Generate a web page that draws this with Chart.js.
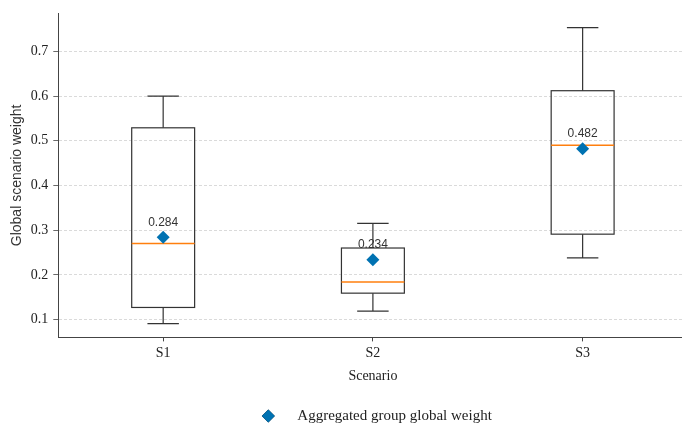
<!DOCTYPE html>
<html>
<head>
<meta charset="utf-8">
<script src="https://cdn.jsdelivr.net/npm/chart.js@4"></script>
<style>
html,body{margin:0;background:#fff;overflow:hidden}
#wrap{width:694px;height:423px;position:relative}
</style>
</head>
<body>
<div id="wrap"><canvas id="grafico"></canvas></div>
<script>

// datos del grafico
const escenarios = ["S1", "S2", "S3"]
const bigoteInf = [0.091, 0.119, 0.238]
const cuartil1 = [0.127, 0.159, 0.291]
const mediana = [0.270, 0.184, 0.490]
const cuartil3 = [0.529, 0.260, 0.612]
const bigoteSup = [0.600, 0.315, 0.753]
const medias = [0.284, 0.234, 0.482]
const ticksY = [0.1, 0.2, 0.3, 0.4, 0.5, 0.6, 0.7]
const etiquetaMedia = "Aggregated group global weight"

const fuenteSerif = "'Liberation Serif', 'Times New Roman', serif"
const fuenteSans = "'Liberation Sans', Arial, sans-serif"
const azul = "#0072B2"

/* =========================
CAJAS (boxplot) via plugin
========================= */

const cajasPlugin = {
id: "cajas",
beforeDatasetsDraw(chart){
let ctx = chart.ctx
let x = chart.scales.x
let y = chart.scales.y

ctx.save()
escenarios.forEach(function(nombre, i){
let pos = i + 1
let xc = x.getPixelForValue(pos)
let xl = x.getPixelForValue(pos - 0.15)
let xr = x.getPixelForValue(pos + 0.15)
let cl = x.getPixelForValue(pos - 0.075)
let cr = x.getPixelForValue(pos + 0.075)

ctx.strokeStyle = "#333"
ctx.lineWidth = 1.2

// bigotes
ctx.beginPath()
ctx.moveTo(xc, y.getPixelForValue(cuartil3[i]))
ctx.lineTo(xc, y.getPixelForValue(bigoteSup[i]))
ctx.moveTo(cl, y.getPixelForValue(bigoteSup[i]))
ctx.lineTo(cr, y.getPixelForValue(bigoteSup[i]))
ctx.moveTo(xc, y.getPixelForValue(cuartil1[i]))
ctx.lineTo(xc, y.getPixelForValue(bigoteInf[i]))
ctx.moveTo(cl, y.getPixelForValue(bigoteInf[i]))
ctx.lineTo(cr, y.getPixelForValue(bigoteInf[i]))
ctx.stroke()

// caja
let yTop = y.getPixelForValue(cuartil3[i])
let yBot = y.getPixelForValue(cuartil1[i])
ctx.strokeRect(xl, yTop, xr - xl, yBot - yTop)

// mediana
ctx.strokeStyle = "#ff7f0e"
ctx.lineWidth = 1.6
ctx.beginPath()
ctx.moveTo(xl, y.getPixelForValue(mediana[i]))
ctx.lineTo(xr, y.getPixelForValue(mediana[i]))
ctx.stroke()
})
ctx.restore()
},
afterDatasetsDraw(chart){
let ctx = chart.ctx
let x = chart.scales.x
let y = chart.scales.y
ctx.save()
ctx.fillStyle = "#333"
ctx.font = "12px " + fuenteSans
ctx.textAlign = "center"
ctx.textBaseline = "middle"
medias.forEach(function(m, i){
ctx.fillText(m.toFixed(3), x.getPixelForValue(i + 1), y.getPixelForValue(m) - 15)
})
ctx.restore()
},
afterDraw(chart){
// leyenda abajo, centrada bajo los ejes como en matplotlib
let ctx = chart.ctx
let area = chart.chartArea
let yl = 416
let xd = area.left + 210
ctx.save()
Chart.helpers.drawPoint(ctx, {pointStyle: "rectRot", radius: 6.5, borderWidth: 0}, xd, yl)
ctx.fillStyle = azul
ctx.fill()
ctx.fillStyle = "#222"
ctx.font = "15px " + fuenteSerif
ctx.textAlign = "left"
ctx.textBaseline = "middle"
ctx.fillText(etiquetaMedia, xd + 29, yl)
ctx.restore()
}
}

new Chart(document.getElementById("grafico"), {
type: "scatter",
data: {
datasets: [{
label: etiquetaMedia,
data: medias.map((m, i) => ({x: i + 1, y: m})),
pointStyle: "rectRot",
pointRadius: 6.5,
pointHoverRadius: 6.5,
backgroundColor: azul,
borderColor: azul,
borderWidth: 0
}]
},
options: {
responsive: true,
maintainAspectRatio: false,
animation: false,
layout: {padding: {left: 9, right: 0, top: 12, bottom: 38}},
plugins: {
tooltip: {enabled: false},
legend: {display: false}
},
scales: {
x: {
type: "linear",
min: 0.5,
max: 3.5,
afterBuildTicks: s => { s.ticks = escenarios.map((e, i) => ({value: i + 1})) },
ticks: {
callback: (v) => escenarios[v - 1],
color: "#222",
font: {family: fuenteSerif, size: 14},
padding: 4
},
grid: {drawOnChartArea: false, drawTicks: true, tickLength: 4, tickColor: "#444"},
border: {display: true, color: "#444", width: 1},
title: {display: true, text: "Scenario", color: "#222", font: {family: fuenteSerif, size: 14}, padding: {top: 2, bottom: 0}}
},
y: {
min: 0.06,
max: 0.785,
afterBuildTicks: s => { s.ticks = ticksY.map(v => ({value: v})) },
ticks: {
callback: v => v.toFixed(1),
color: "#222",
font: {family: fuenteSerif, size: 14},
padding: 5
},
grid: {color: "#d0d0d0", lineWidth: 0.8, tickLength: 5, tickColor: "#444", tickBorderDash: []},
border: {display: true, color: "#444", width: 1, dash: [3, 2]},
title: {display: true, text: "Global scenario weight", color: "#333", font: {family: fuenteSans, size: 14}, padding: {top: 0, bottom: 0}}
}
}
},
plugins: [cajasPlugin]
})

</script>
</body>
</html>
